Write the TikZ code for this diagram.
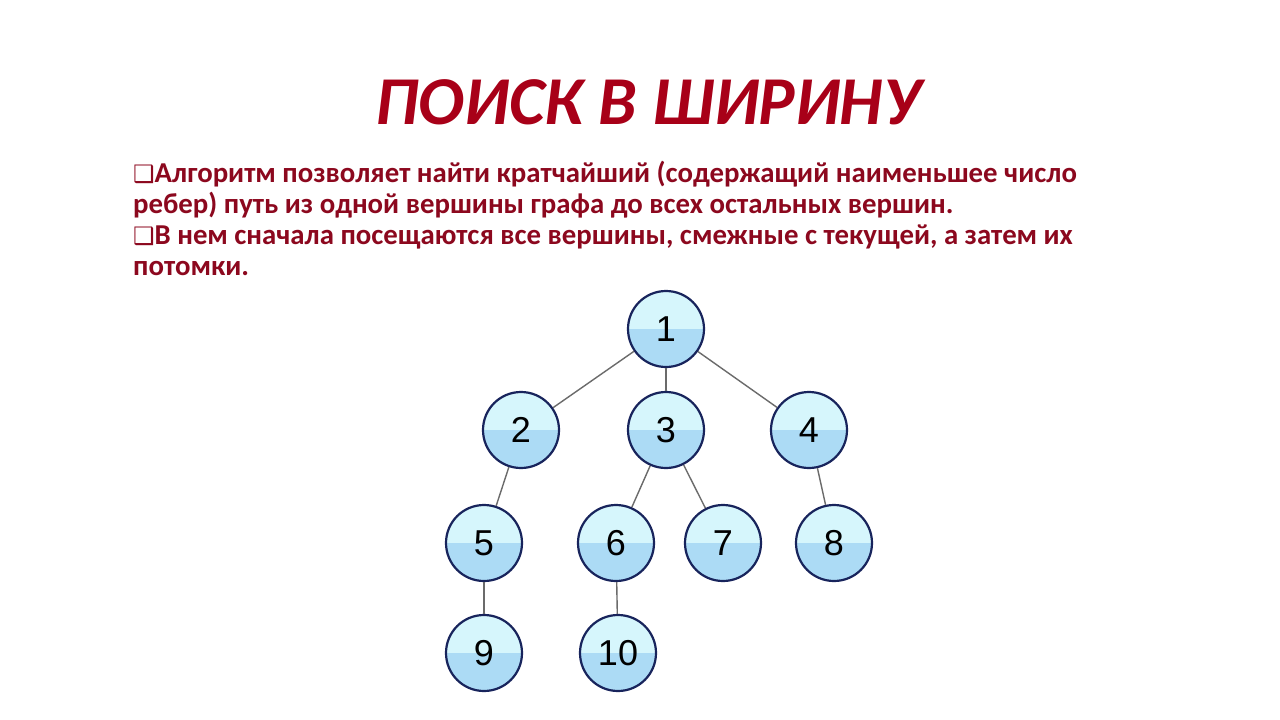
\documentclass[tikz,border=0pt]{standalone}
\usepackage{fontspec}
\setmainfont{Carlito}
\newfontfamily\numfont{Liberation Sans}
\newfontfamily\boxfont{DejaVu Sans}
\usetikzlibrary{positioning}
\definecolor{titlered}{RGB}{168,0,24}
\definecolor{textred}{RGB}{140,8,30}
\definecolor{topblue}{RGB}{214,246,252}
\definecolor{lowblue}{RGB}{172,219,245}
\definecolor{rimblue}{RGB}{24,36,92}
\tikzset{%
	vertex/.style={draw=rimblue, line width=2.2pt, circle, minimum size=76pt, inner sep=0pt,%
		font=\numfont\fontsize{36}{36}\selectfont,%
		path picture={\fill[lowblue] (path picture bounding box.south west) rectangle (path picture bounding box.east);
			\fill[topblue] (path picture bounding box.north west) rectangle (path picture bounding box.east);}},
	connector/.style={draw=black!58, line width=1.4pt},
	title/.style={text=titlered, font=\bfseries\itshape\fontsize{68.5}{68.5}\selectfont, inner sep=0pt},
	bullet/.style={text=textred, font=\bfseries\fontsize{28.8}{31}\selectfont, inner sep=0pt, anchor=base west}
}
\newcommand{\sqbox}{{\boxfont\fontsize{24}{24}\selectfont ❑}}

\begin{document}
\begin{tikzpicture}[x=1pt, y=-1pt, node distance=100pt, on grid]
	\useasboundingbox (0,0) rectangle (1280,720);
	\fill[white] (0,0) rectangle (1280,720);

	\node[title, anchor=base] (head) at (648,124) {ПОИСК В ШИРИНУ};
	\node[bullet] (l1) at (133,182) {\sqbox Алгоритм позволяет найти кратчайший (содержащий наименьшее число};
	\node[bullet] (l2) at (133,213) {ребер) путь из одной вершины графа до всех остальных вершин.};
	\node[bullet] (l3) at (133,244) {\sqbox В нем сначала посещаются все вершины, смежные с текущей, а затем их};
	\node[bullet] (l4) at (133,275) {потомки.};

	\node[vertex] (v1) at (666,329) {1};
	\node[vertex, below left=101pt and 145pt of v1] (v2) {2};
	\node[vertex, below=101pt of v1] (v3) {3};
	\node[vertex, below right=101pt and 143pt of v1] (v4) {4};
	\node[vertex, below left=113pt and 37pt of v2] (v5) {5};
	\node[vertex, below left=113pt and 50pt of v3] (v6) {6};
	\node[vertex, below right=113pt and 57pt of v3] (v7) {7};
	\node[vertex, below right=113pt and 25pt of v4] (v8) {8};
	\node[vertex, below=110pt of v5] (v9) {9};
	\node[vertex, below right=110pt and 2pt of v6] (v10) {10};

	\draw[connector] (v1) -- (v2);
	\draw[connector] (v1) -- (v3);
	\draw[connector] (v1) -- (v4);
	\draw[connector] (v2) -- (v5);
	\draw[connector] (v3) -- (v6);
	\draw[connector] (v3) -- (v7);
	\draw[connector] (v4) -- (v8);
	\draw[connector] (v5) -- (v9);
	\draw[connector] (v6) -- (v10);
\end{tikzpicture}
\end{document}
